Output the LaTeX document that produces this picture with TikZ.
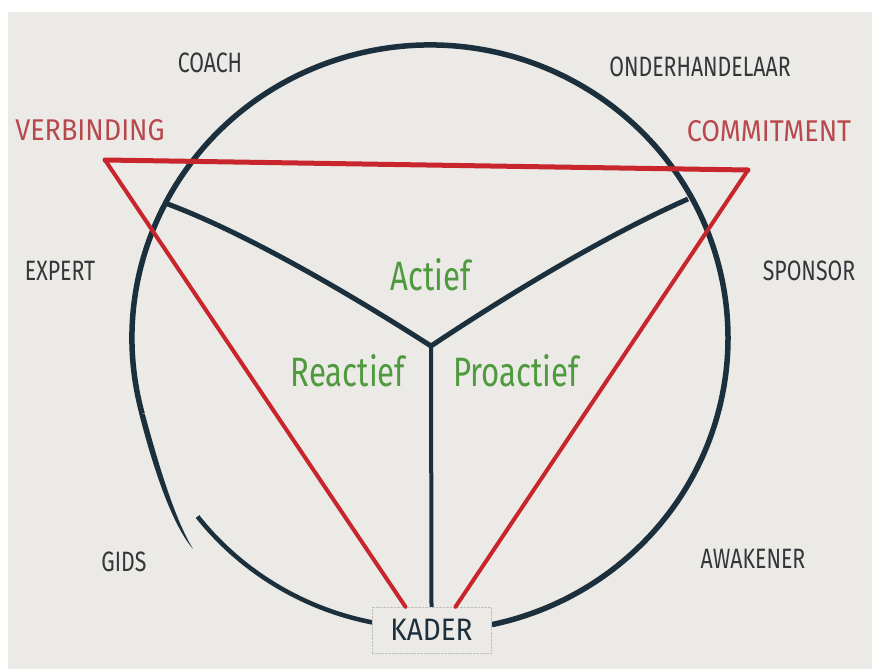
\documentclass[tikz,border=0pt]{standalone}
\usepackage{fontspec}
\usepackage{xcolor}
\usepackage{tikz}
\usetikzlibrary{positioning}
\setmainfont{Fira Sans}
\newfontfamily\handfont[FakeStretch=0.76]{Fira Sans}
\newfontfamily\dinfont[FakeStretch=0.9]{Fira Sans}
\definecolor{paper}{HTML}{EBEAE6}
\definecolor{navy}{HTML}{1C2F3D}
\definecolor{redline}{HTML}{C9252D}
\definecolor{redlabel}{HTML}{B9484D}
\definecolor{greenlabel}{HTML}{4F9A3F}
\definecolor{pencil}{HTML}{33373A}
\tikzset{
    role/.style={font=\handfont\fontsize{28}{28}\selectfont, text=pencil,
        anchor=base, inner sep=0pt},
    pole/.style={font=\dinfont\fontsize{30}{30}\selectfont, text=redlabel,
        anchor=base, inner sep=0pt},
    mode/.style={font=\handfont\fontsize{41}{41}\selectfont, text=greenlabel,
        anchor=base, inner sep=0pt},
    kaderbox/.style={draw=black!25, densely dotted, fill=paper, text=navy,
        font=\dinfont\fontsize{31}{31}\selectfont,
        minimum width=119pt, minimum height=46pt, inner sep=0pt},
    ring/.style={navy, line width=5.5pt},
    branch/.style={navy, line width=5pt, line join=round},
    triangle/.style={redline, line width=4pt},
}
\begin{document}
\begin{tikzpicture}[x=1pt, y=-1pt]
  \useasboundingbox (0,0) rectangle (872,669);
  \fill[white] (0,0) rectangle (872,669);
  \fill[paper] (8,12) rectangle (872,669);

  % outer circle, open at the lower left and at the frame
  \draw[ring] (430,338) ++(165:298 and 293)
    arc[start angle=165, end angle=438, x radius=298, y radius=293];
  \fill[navy] (139.2,413.8) .. controls (151,460) and (170,522) .. (193,549)
    .. controls (174,518) and (157,459) .. (144.8,413.8) -- cycle;
  \draw[ring, line width=4.5pt] (430,338) ++(142:295 and 290)
    arc[start angle=142, end angle=101, x radius=295, y radius=290];

  \node[kaderbox] (kader) at (431.5,630) {KADER};

  % the three parts
  \coordinate (hub) at (431,346);
  \coordinate (ltip) at (165,203);
  \coordinate (rtip) at (688,199);
  \draw[branch] (hub) .. controls (375,310) and (255,236) .. (ltip);
  \draw[branch] (hub) .. controls (500,300) and (600,238) .. (rtip);
  \draw[branch, line width=4pt] (hub) -- (kader.north);

  % red triangle
  \coordinate (verb) at (105,160);
  \coordinate (comm) at (748,170);
  \draw[triangle, line width=5pt, line cap=round] (verb) -- (comm);
  \draw[triangle, line cap=round] (verb) -- ([xshift=-26pt]kader.north);
  \draw[triangle, line cap=round] (comm) -- ([xshift=24pt]kader.north);

  % labels
  \node[role] (coach) at (210,72) {COACH};
  \node[role] (onderh) at (700,76) {ONDERHANDELAAR};
  \node[role] (expert) at (60,280) {EXPERT};
  \node[role] (sponsor) at (809,280) {SPONSOR};
  \node[role] (gids) at (124,571) {GIDS};
  \node[role] (awakener) at (753,568) {AWAKENER};
  \node[pole] (verbinding) at (90,140) {VERBINDING};
  \node[pole] (commitment) at (769,141) {COMMITMENT};
  \node[mode] (actief) at (431,290) {Actief};
  \node[mode] (reactief) at (348,386) {Reactief};
  \node[mode] (proactief) at (516,386) {Proactief};
\end{tikzpicture}
\end{document}
